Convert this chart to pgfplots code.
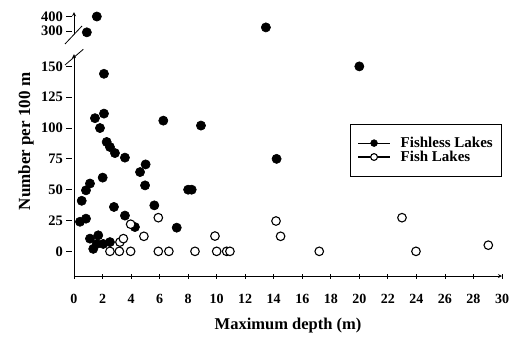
\documentclass[border=0pt]{standalone}
\usepackage{pgfplots}
\pgfplotsset{compat=1.18}
\usepackage{fontspec}
\setmainfont{Liberation Serif}
\begin{document}
\begin{tikzpicture}[x=1pt,y=1pt]
\useasboundingbox (-74pt,-62pt) rectangle (437pt,276pt);
\pgfplotsset{
  common/.style={
    clip=false, enlargelimits=false,
    xmin=0, xmax=30, x=14.2667pt,
    axis line style={-, line width=0.8pt},
    tick style={black, line width=0.8pt},
    tick align=inside, major tick length=5pt,
    /pgf/number format/assume math mode=true,
    xticklabel style={font=\fontsize{14}{14}\selectfont\bfseries, yshift=-12pt},
    yticklabel style={font=\fontsize{14.5}{14.5}\selectfont\bfseries, xshift=-5pt},
    ytick style={xshift=-5pt},
  },
  fishless/.style={only marks, mark=*, mark size=4.6pt, mark options={fill=black, draw=black, line width=0.6pt}},
  fish/.style={only marks, mark=*, mark size=4.3pt, mark options={fill=white, draw=black, line width=1.1pt}},
}
\begin{axis}[common, at={(0pt,0pt)}, anchor=south west,
  ymin=-20, ymax=160, y=1.233pt,
  axis x line=bottom, axis y line=left,
  xtick={0,2,...,30}, ytick={0,25,...,150},
  xlabel={Maximum depth (m)},
  ylabel={Number per 100 m},
  xlabel style={font=\fontsize{16.5}{16.5}\selectfont\bfseries, yshift=-8pt},
  ylabel style={font=\fontsize{17}{17}\selectfont\bfseries, at={(axis description cs:-0.112,0.606)}, anchor=center},
  legend style={at={(0.645,0.686)}, anchor=north west, draw=black, line width=0.8pt,
    font=\fontsize{15}{15}\selectfont\bfseries, inner xsep=7pt, inner ysep=11pt,
    row sep=-2pt, /tikz/every odd column/.style={column sep=8pt}},
  legend cell align=left,
  legend image code/.code={
    \draw[black, line width=1.2pt] (0pt,0pt) -- (32pt,0pt);
    \draw[#1, mark size=3.4pt] plot coordinates {(16pt,0pt)};
  },
]
\addplot[fishless] coordinates {
(0.42,24) (0.84,26.5) (0.54,41) (0.84,49.5) (1.12,55) (1.47,108) (2.1,111.7)
(1.82,100) (2.29,88.7) (2.52,84.6) (2.87,79.7) (3.57,76) (2.01,59.8) (2.8,36)
(3.57,29) (4.27,19.7) (1.12,10.3) (1.7,13) (1.35,2) (1.59,6) (2.05,6) (2.52,7.5)
(4.63,64.3) (5.02,70.5) (4.98,53.5) (5.63,37.3) (7.2,19.2) (6.26,106)
(8.0,50) (8.25,50) (8.9,102) (2.1,144) (20,150) (14.2,75)
};
\addlegendentry{Fishless Lakes}
\addplot[fish] coordinates {
(2.52,0) (3.18,0) (3.97,0) (3.22,7.5) (3.46,10.3) (3.97,22) (4.9,12.2) (5.91,27.3)
(5.91,0) (6.65,0) (8.48,0) (9.88,12.4) (10.0,0) (10.7,0) (10.93,0) (14.16,24.6)
(14.48,12.2) (17.19,0) (22.99,27.3) (23.97,0) (29.04,5)
};
\addlegendentry{Fish Lakes}
\end{axis}
\begin{axis}[common, at={(0pt,241.5pt)}, anchor=south west,
  ymin=276, ymax=430, y=0.145pt,
  axis x line=none, axis y line=left,
  ytick={300,400},
]
\addplot[fishless] coordinates {(1.6,400) (0.9,291) (13.45,325)};
\end{axis}
\draw[line width=0.8pt] (-9pt,232pt) -- (8pt,250pt);
\draw[line width=0.8pt] (-9pt,211pt) -- (9.3pt,226.7pt);
\end{tikzpicture}
\end{document}
